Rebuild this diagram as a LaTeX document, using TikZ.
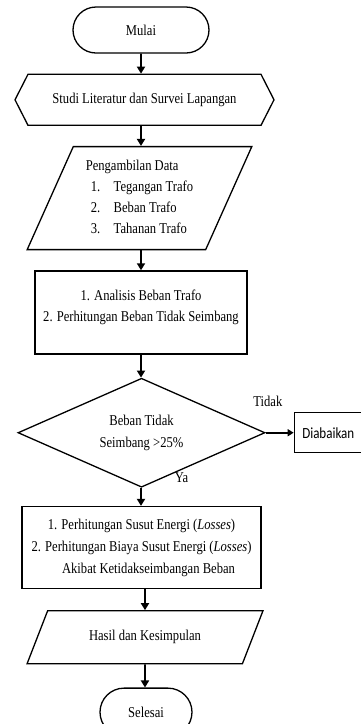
\documentclass[tikz,border=0pt]{standalone}
\usepackage{fontspec}
\setmainfont{Liberation Serif}[FakeStretch=0.84]
\newfontfamily\calibrifont{Carlito}[FakeStretch=0.84]
\usetikzlibrary{arrows.meta,positioning,shapes.geometric,shapes.misc,shapes.symbols}

\begin{document}
\begin{tikzpicture}[>={Triangle[length=7pt,width=8pt]},line width=1.3pt,
                    font=\fontsize{15pt}{21pt}\selectfont]
  \tikzstyle{terminal}=[draw,rounded rectangle,inner sep=0pt]
  \tikzstyle{prep}=[draw,signal,signal to=west and east,signal pointer angle=126,
                    minimum width=259pt,minimum height=51pt,inner sep=0pt]
  \tikzstyle{io}=[draw,trapezium,trapezium stretches=true,inner sep=0pt]
  \tikzstyle{process}=[draw,rectangle,inner sep=0pt]
  \tikzstyle{decision}=[draw,diamond,aspect=2.27,minimum width=247pt,
                        minimum height=109pt,inner sep=0pt,align=center]
  \tikzstyle{flow}=[->,line width=1.7pt]

  \useasboundingbox (0,0) rectangle (361pt,-724pt);

  \node[terminal,minimum width=136pt,minimum height=46pt] (mulai) at (141pt,-30pt) {Mulai};
  \node[prep]       (studi) [below=20pt of mulai,xshift=3.5pt] {Studi Literatur dan Survei Lapangan};
  \node[io,trapezium left angle=66,trapezium right angle=114,
        minimum width=225pt,minimum height=103pt]
                    (data) [below=20pt of studi,xshift=-5pt]
        {\begin{tabular}{@{}l@{\hspace{13.5pt}}l@{}}
           \multicolumn{2}{@{}l@{}}{Pengambilan Data}\\
           \hspace*{5pt}1. & Tegangan Trafo\\
           \hspace*{5pt}2. & Beban Trafo\\
           \hspace*{5pt}3. & Tahanan Trafo
         \end{tabular}};
  \node[process,minimum width=212pt,minimum height=83pt]
                    (analisis) [below=20pt of data,xshift=1.5pt]
        {\raisebox{6pt}[\height][\depth]{\begin{tabular}{@{}c@{}}
           1. Analisis Beban Trafo\\
           2. Perhitungan Beban Tidak Seimbang
         \end{tabular}}};
  \node[decision]   (cek) [below=23pt of analisis,xshift=0.5pt] {Beban Tidak\\[1pt]Seimbang >25\%};
  \node[process,minimum width=68pt,minimum height=40pt,
        font=\calibrifont\fontsize{15.5pt}{17pt}\selectfont]
                    (abaikan) [right=28pt of cek] {Diabaikan};
  \node[process,minimum width=239pt,minimum height=82pt,align=center]
                    (hitung) [below=18pt of cek]
        {1. Perhitungan Susut Energi (\textit{Losses})\\[1pt]
         2. Perhitungan Biaya Susut Energi (\textit{Losses})\\[1pt]
         \hspace*{14pt}Akibat Ketidakseimbangan Beban};
  \node[io,trapezium left angle=49,trapezium right angle=131,
        minimum width=236pt,minimum height=53pt]
                    (hasil) [below=21pt of hitung,xshift=3.5pt] {Hasil dan Kesimpulan};
  \node[terminal,minimum width=92pt,minimum height=48pt]
                    (selesai) [below=23pt of hasil,xshift=1pt] {Selesai};

  \node (ya) at ([xshift=40pt,yshift=10pt]cek.south) {Ya};

  \path (mulai)                   edge[flow] (studi.north -| mulai)
        (studi.south -| mulai)    edge[flow] (data.north -| mulai)
        (data.south -| mulai)     edge[flow] (analisis.north -| mulai)
        (analisis.south -| mulai) edge[flow] (cek.north -| mulai)
        (cek.south -| mulai)      edge[flow] (hitung.north -| mulai)
        (hitung.south -| hasil)   edge[flow] (hasil.north)
        (hasil.south)             edge[flow] (selesai.north -| hasil)
        (cek)  edge[flow,line width=2.4pt,>={Triangle[length=6pt,width=7pt]}]
               node[above=22pt,pos=0.08] {Tidak} (abaikan);
\end{tikzpicture}
\end{document}
